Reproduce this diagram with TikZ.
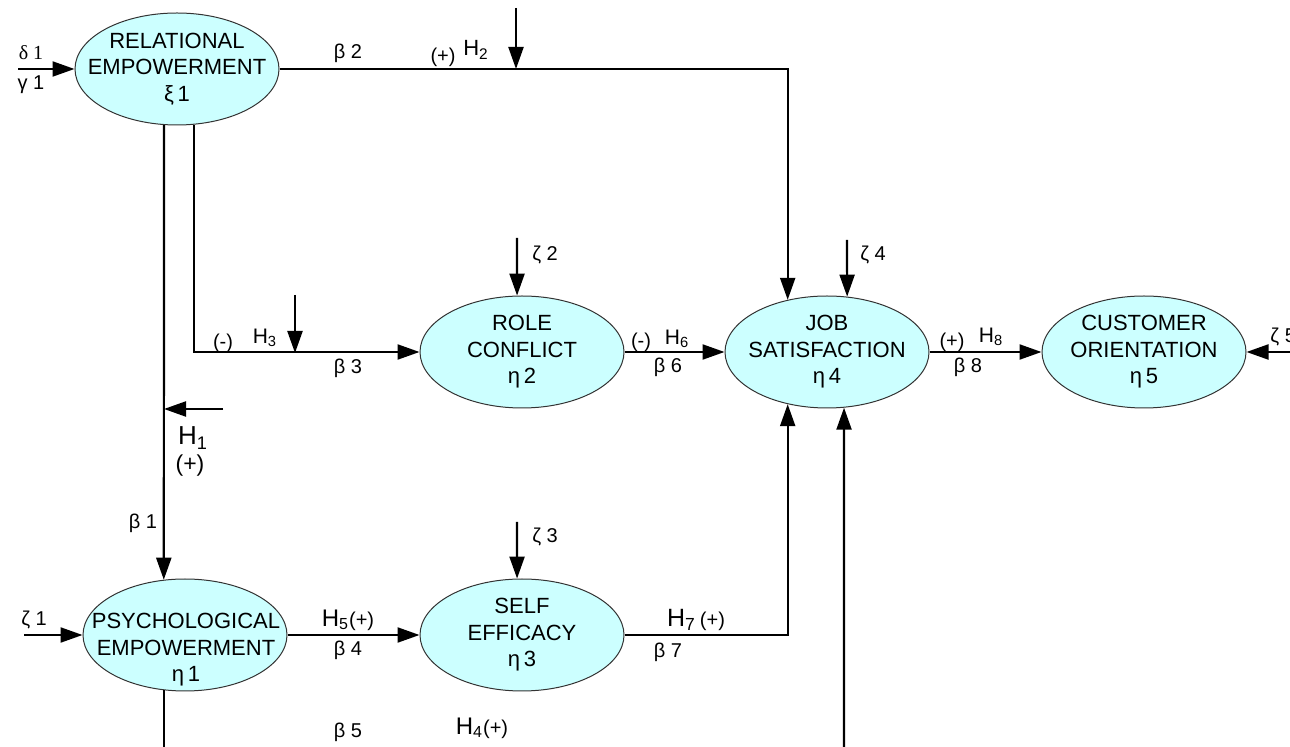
\documentclass[tikz,border=0pt]{standalone}
\usepackage{fontspec}
\setmainfont{Liberation Sans}
\usetikzlibrary{arrows.meta,shapes.geometric}

\definecolor{latentfill}{RGB}{204,255,255}
\newcommand{\Hyp}[1]{H\textsubscript{#1}}

\begin{document}
\begin{tikzpicture}[x=0.5pt,y=-0.5pt,
    latent/.style={ellipse,draw=black!80,line width=0.5pt,fill=latentfill,
      minimum width=102pt,minimum height=56pt,inner xsep=-12pt,inner ysep=0pt,
      align=center,font=\fontsize{11}{13.25}\selectfont},
    latenttext/.style={inner sep=0pt,align=center,font=\fontsize{11}{13.25}\selectfont},
    path/.style={line width=1.1pt,-{Triangle[length=11pt,width=7.5pt]}},
    coef/.style={font=\fontsize{10}{10}\selectfont,inner sep=0pt},
    hyp/.style={inner sep=0pt,font=\fontsize{#1}{#1}\selectfont},
  ]
  \useasboundingbox (0,0) rectangle (1290,747);

  % latent variables
  \node[latent] (rel) at (177,69)  {RELATIONAL\\EMPOWERMENT\\ξ\,1};
  \node[latent] (psy) at (185,635) {};
  \node[latenttext] (psytext) at (186,650) {PSYCHOLOGICAL\\EMPOWERMENT\\η\,1};
  \node[latent] (rol) at (522,352) {ROLE\\CONFLICT\\η\,2};
  \node[latent] (sef) at (522,635) {SELF\\EFFICACY\\η\,3};
  \node[latent] (job) at (827,352) {JOB\\SATISFACTION\\η\,4};
  \node[latent] (cus) at (1144,352) {CUSTOMER\\ORIENTATION\\η\,5};

  % free ends
  \coordinate (in1) at (18,69);
  \coordinate (z1) at (24,635);
  \coordinate (z2) at (517,238);
  \coordinate (z3) at (517,522);
  \coordinate (z4) at (847,240);
  \coordinate (z5) at (1292,352);
  \path (psy.249) ++(0,64) coordinate (b1);
  \coordinate (b2) at (844,752);
  \coordinate (m1a) at (223,409);
  \coordinate (m1b) at (164,409);
  \coordinate (m2a) at (516,8);
  \coordinate (m2b) at (516,69);
  \coordinate (m3a) at (295,295);
  \coordinate (m3b) at (295,353);

  % structural paths
  \draw[path] (rel.257) -- (psy.111);
  \draw[path] (rel.east) -| (job.127);
  \draw[path] (rel.287) |- (rol.west);
  \draw[path] (psy.east) -- (sef.west);
  \draw[path] (rol.east) -- (job.west);
  \draw[path] (sef.east) -| (job.233);
  \draw[path] (job.east) -- (cus.west);
  \draw[line width=1.1pt] (psy.249) -- (b1);
  \draw[path] (b2) -- (job.287);

  % disturbances
  \draw[path] (in1) -- (rel.west);
  \draw[path] (z1) -- (psy.west);
  \draw[path] (z2) -- (rol.95);
  \draw[path] (z3) -- (sef.95);
  \draw[path] (z4) -- (job.70);
  \draw[path] (z5) -- (cus.east);

  % moderators
  \draw[path] (m1a) -- (m1b);
  \draw[path] (m2a) -- (m2b);
  \draw[path] (m3a) -- (m3b);

  % labels
  \node[coef] (ld1) at (31,53) {\fontspec{Liberation Serif}δ 1};
  \node[coef] (lg1) at (31,85) {γ 1};
  \node[coef] (lz1) at (34,620) {ζ 1};
  \node[coef] (lz2) at (545,255) {ζ 2};
  \node[coef] (lz3) at (545,537) {ζ 3};
  \node[coef] (lz4) at (873,255) {ζ 4};
  \node[coef,anchor=west] (lz5) at (1270,337) {ζ 5};
  \node[coef] (lb1) at (143,523) {β 1};
  \node[coef] (lb2) at (348,53) {β 2};
  \node[coef] (lb3) at (348,368) {β 3};
  \node[coef] (lb4) at (348,650) {β 4};
  \node[coef] (lb5) at (348,732) {β 5};
  \node[coef] (lb6) at (668,367) {β 6};
  \node[coef] (lb7) at (668,652) {β 7};
  \node[coef] (lb8) at (968,367) {β 8};

  \node[hyp=13] (h1) at (193,438) {\Hyp{1}};
  \node[hyp=11.5] (s1) at (190,466) {(+)};
  \node[coef] (s2) at (443,57) {(+)};
  \node[hyp=11] (h2) at (476,50) {\Hyp{2}};
  \node[coef] (s3) at (223,343) {(-)};
  \node[hyp=10.5] (h3) at (265,338) {\Hyp{3}};
  \node[hyp=12] (h4) at (482,728) {\Hyp{4}{\fontsize{10}{10}\selectfont(+)}};
  \node[hyp=12] (h5) at (348,620) {\Hyp{5}{\fontsize{10}{10}\selectfont(+)}};
  \node[coef] (s6) at (641,342) {(-)};
  \node[hyp=10.5] (h6) at (677,339) {\Hyp{6}};
  \node[hyp=12.5] (h7) at (696,620) {\Hyp{7}\,{\fontsize{10}{10}\selectfont(+)}};
  \node[coef] (s8) at (952,342) {(+)};
  \node[hyp=10.5] (h8) at (991,337) {\Hyp{8}};
\end{tikzpicture}
\end{document}
